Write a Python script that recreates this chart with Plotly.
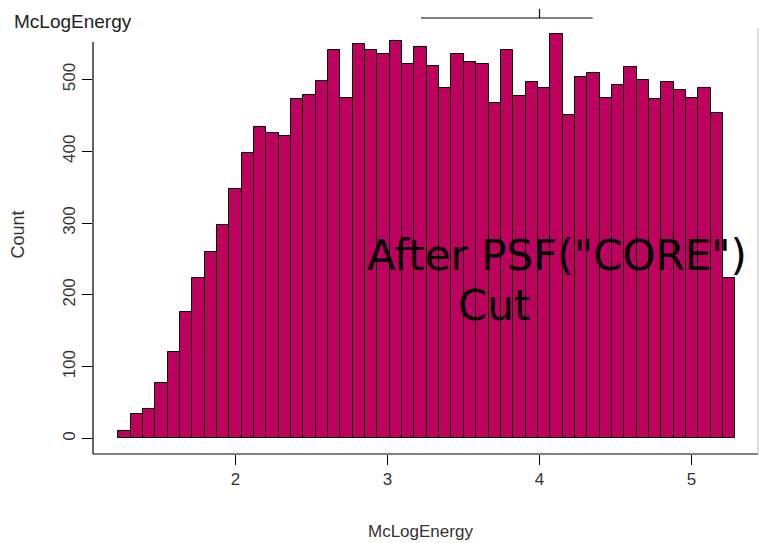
import plotly.graph_objects as go

# ---- data ----
bin_start = 1.2289          # left edge of first bin (McLogEnergy)
bin_width = 0.081186        # bin width
counts = [10, 34, 41, 77, 121, 176, 223, 260, 297, 347,
          398, 434, 425, 421, 473, 478, 498, 541, 474, 549,
          541, 536, 553, 521, 546, 519, 488, 536, 525, 521,
          468, 541, 477, 497, 488, 563, 451, 503, 509, 474,
          492, 517, 500, 473, 497, 486, 474, 488, 454, 223]
x_ticks = [2, 3, 4, 5]
y_ticks = [0, 100, 200, 300, 400, 500]
x_title = "McLogEnergy"
y_title = "Count"
top_title = "McLogEnergy"
note_line1 = 'After PSF("CORE")'
note_line2 = "Cut"

left_edges = [bin_start + i * bin_width for i in range(len(counts))]

BAR = "rgb(190,0,94)"
REG = "Liberation Sans, Arial, sans-serif"

fig = go.Figure(go.Bar(
    x=left_edges, y=counts, width=bin_width, offset=0,
    marker=dict(color=BAR, line=dict(color="black", width=1)),
    hoverinfo="x+y",
))

W, H = 759, 543
L, R, T, B = 93, 1, 18, 89
pw, ph = W - L - R, H - T - B

def px_x(p):
    return (p - L) / pw

def px_y(p):
    return (H - B - p) / ph

fig.update_layout(
    width=W, height=H, autosize=False,
    margin=dict(l=L, r=R, t=T, b=B, pad=0),
    paper_bgcolor="white", plot_bgcolor="white",
    showlegend=False, bargap=0,
    xaxis=dict(range=[1.0625, 5.4375], tickvals=x_ticks, ticks="outside",
               ticklen=10, tickwidth=1, tickcolor="black", showgrid=False,
               zeroline=False, showline=False,
               tickfont=dict(family=REG, size=17, color="#333")),
    yaxis=dict(range=[-21.6, 585.7], tickvals=y_ticks, ticks="outside",
               ticklen=10, tickwidth=1, tickcolor="black", showgrid=False,
               zeroline=False, showline=False, tickangle=-90,
               tickfont=dict(family=REG, size=17, color="#333")),
    shapes=[
        dict(type="line", xref="paper", yref="paper", x0=0, x1=0, y0=0, y1=px_y(42),
             line=dict(color="black", width=1.2)),
        dict(type="line", xref="paper", yref="paper", x0=0, x1=1, y0=0, y1=0,
             line=dict(color="black", width=1.2)),
        dict(type="line", xref="paper", yref="paper", x0=1, x1=1, y0=0, y1=px_y(28),
             line=dict(color="#bbbbbb", width=1)),
        dict(type="line", xref="paper", yref="paper", x0=px_x(421), x1=px_x(592.7),
             y0=1, y1=1, line=dict(color="black", width=1.2)),
        dict(type="line", xref="x", yref="paper", x0=4, x1=4, y0=1, y1=px_y(9),
             line=dict(color="black", width=1.2)),
    ],
    annotations=[
        dict(text=top_title, xref="paper", yref="paper", x=px_x(12), y=px_y(21),
             xanchor="left", yanchor="middle", showarrow=False,
             font=dict(family=REG, size=19, color="#222")),
        dict(text=x_title, xref="paper", yref="paper", x=px_x(420), y=px_y(531),
             xanchor="center", yanchor="middle", showarrow=False,
             font=dict(family=REG, size=17, color="#333")),
        dict(text=y_title, xref="paper", yref="paper", x=px_x(17.5), y=px_y(235),
             xanchor="center", yanchor="middle", showarrow=False, textangle=-90,
             font=dict(family=REG, size=18, color="#333")),
        dict(text=note_line1, xref="paper", yref="paper", x=px_x(556.5), y=px_y(255),
             xanchor="center", yanchor="middle", showarrow=False,
             font=dict(family="DejaVu Sans", size=42, color="black")),
        dict(text=note_line2, xref="paper", yref="paper", x=px_x(494), y=px_y(305),
             xanchor="center", yanchor="middle", showarrow=False,
             font=dict(family="DejaVu Sans", size=42, color="black")),
    ],
)

fig.write_html("out.html")
